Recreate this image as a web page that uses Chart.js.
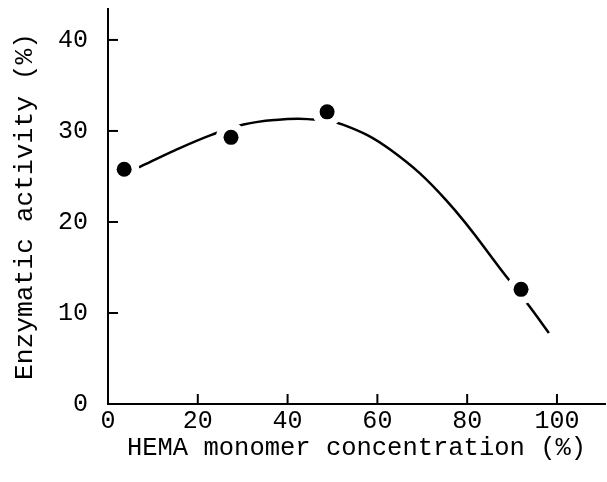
<!DOCTYPE html>
<html>
<head>
<meta charset="utf-8">
<script src="https://cdn.jsdelivr.net/npm/chart.js@4.4.0/dist/chart.umd.min.js"></script>
<style>
  html, body { margin: 0; padding: 0; background: #fff; }
  #wrap { width: 607px; height: 482px; }
</style>
</head>
<body>
<div id="wrap"><canvas id="chart" width="607" height="482"></canvas></div>
<script>
// measured points
var concentration = [3.6, 27.4, 48.8, 92.0];
var activity = [25.8, 29.3, 32.1, 12.6];

// hand drawn fitted curve
var curveX = [6.9, 15, 23.2, 30.2, 37, 44.5, 52.3, 63, 75.3, 89.2, 93.9, 98.2];
var curveY = [26.0, 27.9, 29.6, 30.7, 31.2, 31.3, 30.7, 27.9, 22.4, 13.7, 10.7, 7.8];

var xTitle = "HEMA monomer concentration (%)";
var yTitle = "Enzymatic activity (%)";

function toPoints(xs, ys) {
  return xs.map(function(x, i) { return { x: x, y: ys[i] }; });
}

// tick marks pointing into the plot, like the original
var inwardTicks = {
  id: "inwardTicks",
  beforeDatasetsDraw: function(chart) {
    var ctx = chart.ctx;
    var xs = chart.scales.x;
    var ys = chart.scales.y;
    ctx.save();
    ctx.strokeStyle = "#000";
    ctx.lineWidth = 2;
    xs.ticks.forEach(function(t) {
      if (t.value === 0) return;
      var px = xs.getPixelForValue(t.value);
      ctx.beginPath();
      ctx.moveTo(px, xs.top);
      ctx.lineTo(px, xs.top - 10);
      ctx.stroke();
    });
    ys.ticks.forEach(function(t) {
      if (t.value === 0) return;
      var py = ys.getPixelForValue(t.value);
      ctx.beginPath();
      ctx.moveTo(ys.right, py);
      ctx.lineTo(ys.right + 10, py);
      ctx.stroke();
    });
    ctx.restore();
  }
};

Chart.defaults.font.family = "'Liberation Mono', monospace";
Chart.defaults.color = "#000";

var ctx = document.getElementById("chart");
var myChart = new Chart(ctx, {
  type: "scatter",
  data: {
    datasets: [
      {
        // black dots
        data: toPoints(concentration, activity),
        pointRadius: 7.5,
        pointBackgroundColor: "#000",
        pointBorderWidth: 0,
        order: 1
      },
      {
        // white halo that breaks the curve around each dot
        data: toPoints(concentration, activity),
        pointRadius: 15,
        pointBackgroundColor: "#fff",
        pointBorderWidth: 0,
        clip: { left: -2, top: 0, right: 0, bottom: -2 },
        order: 2
      },
      {
        data: toPoints(curveX, curveY),
        showLine: true,
        tension: 0.4,
        borderColor: "#000",
        borderWidth: 2.5,
        pointRadius: 0,
        order: 3
      }
    ]
  },
  options: {
    responsive: false,
    animation: false,
    layout: { autoPadding: false, padding: { top: 9, right: 2, left: 0, bottom: 0 } },
    plugins: {
      legend: { display: false },
      tooltip: { enabled: false }
    },
    scales: {
      x: {
        type: "linear",
        min: 0,
        max: 110.7,
        afterFit: function(scale) {
          scale.height = 78;
          scale.paddingLeft = 0;
          scale.paddingRight = 0;
        },
        border: { display: true, color: "#000", width: 2 },
        grid: { display: false, drawTicks: false },
        ticks: {
          stepSize: 20,
          includeBounds: false,
          padding: 2,
          maxRotation: 0,
          font: { size: 25 }
        },
        title: {
          display: true,
          text: xTitle,
          font: { size: 25.5 },
          padding: { top: 0, bottom: 18 }
        }
      },
      y: {
        type: "linear",
        min: 0,
        max: 43.4,
        afterFit: function(scale) {
          scale.width = 108;
          scale.paddingTop = 0;
          scale.paddingBottom = 0;
        },
        border: { display: true, color: "#000", width: 2 },
        grid: { display: false, drawTicks: false },
        ticks: {
          stepSize: 10,
          includeBounds: false,
          padding: 20,
          font: { size: 25 }
        },
        title: {
          display: true,
          text: yTitle,
          font: { size: 26.3 },
          padding: { top: 9, bottom: 0 }
        }
      }
    }
  },
  plugins: [inwardTicks]
});
</script>
</body>
</html>
